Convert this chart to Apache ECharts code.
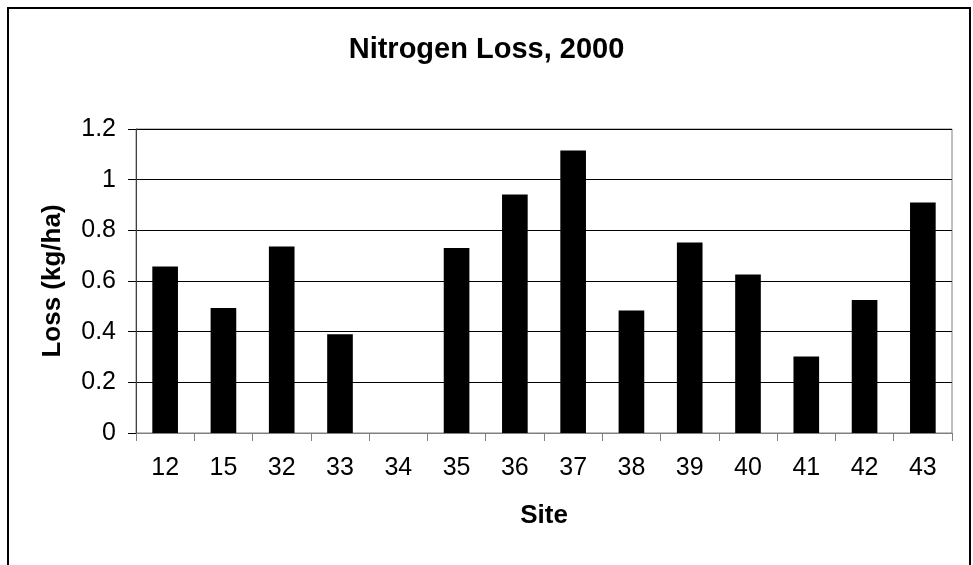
<!DOCTYPE html>
<html>
<head>
<meta charset="utf-8">
<script src="https://cdn.jsdelivr.net/npm/echarts@6/dist/echarts.min.js"></script>
<style>
    html, body { margin: 0; padding: 0; background: #fff; }
    #main { width: 973px; height: 565px; }
</style>
</head>
<body>
<div id="main"></div>
<script>
// 数据
const sites = ['12', '15', '32', '33', '34', '35', '36', '37', '38', '39', '40', '41', '42', '43'];
const loss = [0.657, 0.493, 0.736, 0.39, 0, 0.73, 0.941, 1.115, 0.484, 0.752, 0.626, 0.302, 0.525, 0.91];

const font = '"Liberation Sans", Arial, sans-serif';

const myChart = echarts.init(document.getElementById('main'));

myChart.setOption({
    animation: false,
    title: {
        text: 'Nitrogen Loss, 2000',
        left: 'center',
        top: 30,
        textStyle: {
            fontFamily: font,
            fontSize: 29,
            fontWeight: 'bold',
            color: '#000'
        }
    },
    // 外框
    graphic: [
        {
            type: 'rect',
            shape: { x: 8, y: 8, width: 962, height: 620 },
            style: { fill: 'none', stroke: '#000', lineWidth: 2 }
        }
    ],
    grid: {
        left: 136,
        right: 21,
        top: 129,
        bottom: 132,
        show: true,
        borderColor: '#808080',
        borderWidth: 1
    },
    xAxis: {
        type: 'category',
        data: sites,
        name: 'Site',
        nameLocation: 'middle',
        nameGap: 70,
        nameTextStyle: {
            fontFamily: font,
            fontSize: 26,
            fontWeight: 'bold',
            color: '#000'
        },
        axisLine: { lineStyle: { color: '#808080', width: 1 } },
        axisTick: { show: true, length: 8, lineStyle: { color: '#808080' } },
        axisLabel: {
            fontFamily: font,
            fontSize: 25,
            color: '#000',
            margin: 23
        }
    },
    yAxis: {
        type: 'value',
        min: 0,
        max: 1.2,
        interval: 0.2,
        name: 'Loss (kg/ha)',
        nameLocation: 'middle',
        nameGap: 70,
        nameTextStyle: {
            fontFamily: font,
            fontSize: 26,
            fontWeight: 'bold',
            color: '#000'
        },
        axisLine: { show: true, lineStyle: { color: '#404040', width: 1 } },
        axisTick: { show: true, length: 8, lineStyle: { color: '#000' } },
        axisLabel: {
            fontFamily: font,
            fontSize: 25,
            color: '#000',
            margin: 20
        },
        splitLine: { show: true, lineStyle: { color: '#000', width: 1 } }
    },
    series: [
        {
            name: 'Loss',
            type: 'bar',
            data: loss,
            barWidth: '44%',
            itemStyle: { color: '#000' }
        }
    ]
});
</script>
</body>
</html>
